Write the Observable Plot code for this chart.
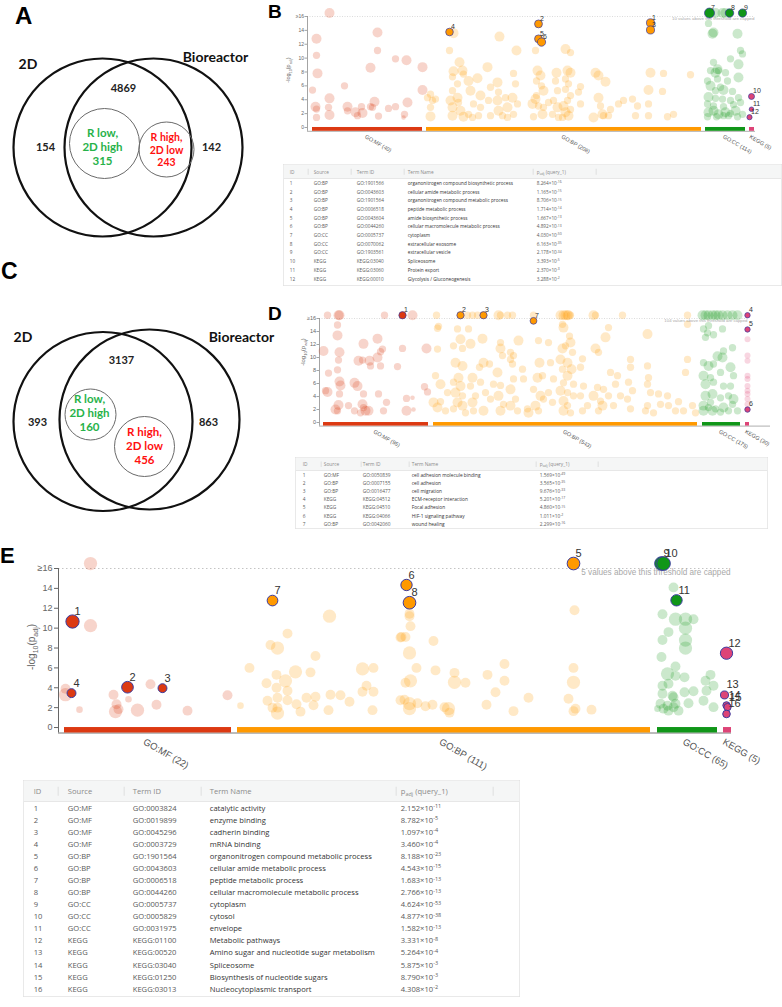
<!DOCTYPE html>
<html><head><meta charset="utf-8">
<script src="https://cdn.jsdelivr.net/npm/d3@7"></script>
<script src="https://cdn.jsdelivr.net/npm/@observablehq/plot@0.6"></script>
<style>
body{margin:0;background:#fff;}
#root{position:relative;width:782px;height:1007px;overflow:hidden;background:#fff;}
</style></head><body><div id="root"></div>
<script>
// ---------------- DATA ----------------
const SRC_COLORS = {"GO:MF":"#dc3912","GO:BP":"#ff9900","GO:CC":"#109618","KEGG":"#dd4477"};
const CATS = ["GO:MF","GO:BP","GO:CC","KEGG"];

// Venn A
const vennA_sets = ["2D","Bioreactor"];
const vennA_counts = [154, 4869, 142];           // only 2D, both, only Bioreactor
const vennA_green = ["R low,","2D high","315"];
const vennA_red = ["R high,","2D low","243"];
// Venn C
const vennC_sets = ["2D","Bioreactor"];
const vennC_counts = [393, 3137, 863];
const vennC_green = ["R low,","2D high","160"];
const vennC_red = ["R high,","2D low","456"];

// Panel B: term counts, table
const B_counts = [40, 208, 114, 5];
const B_src = ["GO:BP","GO:BP","GO:BP","GO:BP","GO:BP","GO:BP","GO:CC","GO:CC","GO:CC","KEGG","KEGG","KEGG"];
const B_termId = ["GO:1901566","GO:0043603","GO:1901564","GO:0006518","GO:0043604","GO:0044260","GO:0005737","GO:0070062","GO:1903561","KEGG:03040","KEGG:03060","KEGG:00010"];
const B_termName = ["organonitrogen compound biosynthetic process","cellular amide metabolic process","organonitrogen compound metabolic process","peptide metabolic process","amide biosynthetic process","cellular macromolecule metabolic process","cytoplasm","extracellular exosome","extracellular vesicle","Spliceosome","Protein export","Glycolysis / Gluconeogenesis"];
const B_pMant = ["8.264","1.165","8.706","1.714","1.667","4.892","4.030","6.163","2.178","3.393","2.370","3.288"];
const B_pExp = [-16,-15,-15,-14,-13,-13,-50,-35,-34,-5,-3,-2];
const B_hiPos = [650,538,650,449,538,541,709,729,742,751,751,749];
const B_hiSize = [600,500,600,400,500,700,3000,800,700,100,30,50];
const B_capped = 10;
// faint points [term position, -log10 p, term size]
const B_MF = [[329,16.5,3000],[316,12.8,3000],[316,10.4,300],[317,7.8,3000],[312,5.4,300],[315,3.0,3000],[316,2.65,300],[316,1.45,300],[329,4.2,3000],[328,2.9,300],[329,1.8,3000],[344,6.0,300],[347,3.0,3000],[347,2.4,300],[355,2.2,3000],[357,1.7,300],[361,3.0,300],[362,2.1,3000],[370,3.0,300],[374,3.7,3000],[372,2.9,300],[377,13.7,3000],[377,11.1,300],[370,8.6,3000],[378,1.65,300],[388,2.75,300],[395,3.0,300],[395,9.9,300],[406,9.7,3000],[407,3.6,3000],[404,1.9,300],[403,1.45,30],[422,8.7,3000],[422,5.4,3000]];
const B_BP = [[430,4.8,300],[427,4.3,300],[432,3.9,300],[435,4.1,300],[430,2.9,300],[430,1.6,3000],[449,11.1,300],[453,13.6,3000],[459,9.4,3000],[452,7.3,300],[453,8.1,3000],[462,8.2,3000],[463,7.7,300],[468,6.7,3000],[457,6.3,300],[452,5.3,300],[457,4.3,3000],[450,3.9,3000],[458,3.6,300],[452,2.9,3000],[460,2.4,3000],[452,1.7,3000],[463,1.55,3000],[468,1.9,300],[472,1.45,300],[477,7.1,3000],[470,5.3,3000],[480,4.6,3000],[473,3.4,300],[480,2.9,300],[478,1.7,300],[487,8.7,3000],[490,5.8,300],[488,3.9,300],[490,1.7,300],[497,6.5,3000],[498,5.1,300],[497,3.9,3000],[498,2.4,3000],[502,1.7,300],[499,13.1,3000],[505,4.3,300],[507,2.9,3000],[507,1.45,300],[516,11.1,3000],[513,7.8,300],[515,6.3,300],[512,4.3,3000],[513,1.9,300],[517,3.4,300],[535,11.1,300],[537,8.2,3000],[540,7.5,3000],[536,6.7,300],[541,6.0,300],[543,5.3,3000],[535,4.1,3000],[538,3.1,300],[536,4.6,300],[532,3.4,3000],[543,2.9,300],[548,3.6,300],[542,1.9,3000],[533,1.55,300],[556,7.9,3000],[555,6.7,300],[557,5.3,300],[553,3.9,300],[557,2.9,3000],[552,1.9,300],[558,1.45,300],[565,11.3,3000],[570,10.8,300],[567,8.2,3000],[570,7.9,3000],[565,7.0,300],[568,6.3,300],[565,5.5,300],[570,4.6,300],[567,3.9,300],[563,3.1,3000],[570,2.6,300],[565,2.2,3000],[568,1.7,3000],[562,1.45,300],[580,5.9,300],[578,5.1,300],[580,3.4,300],[598,7.5,3000],[595,7.9,3000],[605,6.6,3000],[598,4.3,3000],[600,3.1,300],[610,2.6,300],[608,1.7,300],[603,1.7,300],[593,1.45,3000],[602,1.9,3000],[618,3.4,300],[623,3.9,300],[632,4.1,300],[637,3.1,300],[635,1.7,300],[650,7.9,3000],[648,5.4,3000],[648,3.4,300],[648,1.7,300],[663,7.8,300],[662,5.2,300],[667,1.55,300],[673,1.9,300],[690,7.6,300]];
const B_CC = [[715,16.5,3000],[722,16.5,3000],[725,16.5,3000],[708,15.0,300],[712,13.5,3000],[713,13.7,3000],[737,13.5,3000],[740,11.1,300],[742,10.6,300],[730,9.9,300],[713,9.4,300],[738,9.1,3000],[717,8.4,3000],[710,8.2,300],[715,7.9,3000],[718,8.2,300],[725,7.9,300],[707,6.7,300],[717,7.0,300],[727,6.7,300],[738,7.2,3000],[710,6.0,3000],[720,5.8,300],[715,5.3,300],[723,5.4,3000],[732,5.2,300],[708,4.4,3000],[715,4.2,300],[722,4.1,300],[730,3.9,300],[738,4.3,300],[707,3.4,300],[713,3.1,300],[723,3.0,300],[733,3.3,300],[740,3.6,300],[708,2.2,3000],[713,2.4,3000],[718,1.9,3000],[725,2.2,3000],[730,2.0,300],[735,2.4,3000],[707,1.55,300],[716,1.55,300],[723,1.7,300],[737,1.55,300],[742,1.9,300],[728,1.7,300]];

// Panel D
const D_counts = [95, 543, 175, 30];
const D_src = ["GO:MF","GO:BP","GO:BP","KEGG","KEGG","KEGG","GO:BP"];
const D_termId = ["GO:0050839","GO:0007155","GO:0016477","KEGG:04512","KEGG:04510","KEGG:04066","GO:0042060"];
const D_termName = ["cell adhesion molecule binding","cell adhesion","cell migration","ECM-receptor interaction","Focal adhesion","HIF-1 signaling pathway","wound healing"];
const D_pMant = ["1.569","3.565","9.676","5.201","4.860","1.011","2.299"];
const D_pExp = [-49,-35,-33,-17,-15,-2,-16];
const D_hiPos = [402,460,483,747,747,747,533];
const D_hiSize = [300,300,300,60,60,60,200];
const D_capped = 104;
const D_MF = [[327,16.5,300],[338,16.5,3000],[339,16.5,3000],[384,16.5,300],[412,16.5,3000],[323,11.0,3000],[328,7.6,300],[327,4.7,3000],[325,4.9,300],[337,15.0,300],[337,13.4,3000],[339,10.8,3000],[338,9.6,300],[337,8.1,300],[339,6.3,3000],[340,5.7,3000],[339,4.4,300],[338,2.7,3000],[337,1.8,300],[335,2.0,3000],[348,2.6,300],[354,6.1,3000],[357,5.6,3000],[354,1.8,300],[358,9.5,3000],[362,9.6,300],[363,12.1,3000],[363,4.4,300],[362,2.8,3000],[363,2.3,300],[365,1.8,3000],[360,1.5,300],[369,9.5,3000],[370,8.7,300],[368,1.8,3000],[377,12.9,3000],[377,10.0,3000],[380,10.9,300],[382,11.3,300],[380,8.7,300],[378,4.4,300],[386,3.1,300],[383,1.8,300],[397,8.6,300],[402,11.4,300],[406,3.7,300],[412,3.8,30],[406,1.8,3000],[413,2.0,30],[426,11.4,3000],[424,5.5,300],[427,4.7,300]];
const D_BP = [[436,16.5,300],[467,16.5,300],[472,16.5,300],[477,16.5,300],[498,16.5,3000],[500,16.5,300],[507,16.5,300],[512,16.5,300],[533,16.5,300],[560,16.5,3000],[563,16.5,3000],[565,16.5,3000],[567,16.5,3000],[568,16.5,3000],[570,16.5,300],[593,16.5,3000],[595,16.5,300],[622,16.5,300],[687,16.5,300],[437,14.5,300],[438,14.8,300],[437,11.3,300],[435,7.2,300],[440,5.9,3000],[433,3.1,3000],[437,2.3,3000],[440,3.2,300],[447,4.6,300],[445,1.8,300],[457,14.4,300],[460,12.8,3000],[453,11.8,300],[462,11.4,300],[455,9.2,3000],[462,8.7,3000],[458,6.9,3000],[453,6.2,300],[460,5.6,3000],[455,4.6,3000],[462,4.1,300],[457,3.1,3000],[462,2.6,3000],[453,2.1,300],[465,1.5,300],[468,14.4,300],[470,12.1,3000],[472,6.9,3000],[470,5.6,300],[475,4.1,300],[472,3.1,3000],[473,1.8,300],[482,12.9,3000],[479,8.5,300],[483,9.2,3000],[480,6.2,300],[485,4.6,300],[483,1.8,3000],[489,9.0,300],[493,5.9,300],[490,3.6,300],[500,12.3,300],[500,11.4,3000],[502,10.3,300],[497,7.7,3000],[500,5.7,300],[498,4.1,3000],[503,2.8,300],[500,1.8,3000],[510,10.8,300],[513,10.3,300],[510,9.7,300],[512,9.0,300],[513,6.7,300],[510,5.1,3000],[515,3.6,300],[510,2.6,3000],[517,1.8,300],[518,12.6,3000],[522,8.2,300],[523,6.7,300],[527,2.1,300],[528,1.5,3000],[538,12.6,300],[539,9.2,3000],[537,6.9,3000],[542,7.2,300],[533,5.1,300],[540,4.1,3000],[535,2.6,3000],[543,3.6,300],[538,1.8,300],[548,12.3,300],[550,9.2,300],[553,6.7,300],[548,4.6,300],[552,3.1,300],[562,15.1,300],[563,14.6,3000],[562,11.4,3000],[565,11.8,300],[560,9.7,3000],[567,9.2,3000],[562,8.2,300],[567,7.2,3000],[563,6.1,300],[560,4.9,3000],[567,4.6,300],[563,3.3,3000],[567,2.6,300],[563,1.8,3000],[570,1.5,300],[570,12.3,3000],[569,13.3,300],[572,10.8,300],[571,8.2,3000],[573,5.9,300],[573,4.1,300],[580,8.5,300],[582,9.8,300],[583,5.6,300],[580,4.1,300],[582,1.8,300],[587,2.6,300],[595,11.4,3000],[598,10.8,300],[593,4.1,3000],[597,5.4,300],[600,3.3,300],[598,1.8,300],[605,13.1,3000],[608,14.6,300],[603,5.1,300],[610,7.7,300],[608,4.1,300],[602,2.6,3000],[617,7.2,300],[615,5.9,300],[620,4.1,300],[613,2.6,300],[630,9.7,300],[630,8.5,300],[628,6.2,300],[632,4.9,300],[627,3.6,300],[630,2.1,300],[647,13.6,3000],[647,8.7,300],[648,6.9,300],[647,5.9,300],[650,4.6,300],[647,2.6,300],[645,1.8,300],[653,1.5,300],[658,4.4,300],[667,4.1,300],[668,2.6,300],[660,2.8,300],[675,1.8,300],[687,9.7,300],[685,7.7,300],[687,15.1,300],[692,2.6,300],[683,1.8,300],[695,1.5,300],[678,3.2,300]];
const D_CC = [[702,16.5,3000],[705,16.5,3000],[708,16.5,3000],[712,16.5,3000],[715,16.5,3000],[718,16.5,3000],[722,16.5,3000],[727,16.5,3000],[732,16.5,3000],[737,16.5,3000],[703,14.4,300],[707,13.8,300],[705,13.1,300],[708,14.9,300],[722,14.4,300],[713,13.5,300],[703,9.2,300],[708,8.7,3000],[713,9.0,300],[722,10.0,3000],[723,11.0,300],[732,11.5,300],[717,10.2,3000],[703,7.2,3000],[710,6.9,300],[720,7.7,300],[730,8.5,3000],[733,7.2,300],[705,5.9,3000],[713,6.2,300],[723,5.6,300],[730,5.6,300],[705,4.1,3000],[712,4.4,3000],[720,3.8,300],[728,4.1,300],[733,3.6,3000],[703,2.6,3000],[710,3.1,300],[715,2.1,300],[723,2.3,3000],[732,2.8,300],[737,1.8,300],[703,1.8,3000],[712,1.8,3000],[720,1.6,300],[728,1.8,300],[708,2.3,300]];
const D_KEGG = [[747,12.8,100],[747,10.3,100],[747,9.5,100],[747,7.2,100],[747,6.7,100],[747,5.6,100],[747,4.9,100],[747,4.4,100],[747,3.6,100],[747,2.8,100],[747,2.0,100]];

// Panel E
const E_counts = [22, 111, 65, 5];
const E_src = ["GO:MF","GO:MF","GO:MF","GO:MF","GO:BP","GO:BP","GO:BP","GO:BP","GO:CC","GO:CC","GO:CC","KEGG","KEGG","KEGG","KEGG","KEGG"];
const E_termId = ["GO:0003824","GO:0019899","GO:0045296","GO:0003729","GO:1901564","GO:0043603","GO:0006518","GO:0044260","GO:0005737","GO:0005829","GO:0031975","KEGG:01100","KEGG:00520","KEGG:03040","KEGG:01250","KEGG:03013"];
const E_termName = ["catalytic activity","enzyme binding","cadherin binding","mRNA binding","organonitrogen compound metabolic process","cellular amide metabolic process","peptide metabolic process","cellular macromolecule metabolic process","cytoplasm","cytosol","envelope","Metabolic pathways","Amino sugar and nucleotide sugar metabolism","Spliceosome","Biosynthesis of nucleotide sugars","Nucleocytoplasmic transport"];
const E_pMant = ["2.152","8.782","1.097","3.460","8.188","4.543","1.683","2.766","4.624","4.877","1.582","3.331","5.264","5.875","8.790","4.308"];
const E_pExp = [-11,-5,-4,-4,-23,-15,-13,-13,-53,-38,-13,-8,-4,-3,-3,-2];
const E_hiPos = [72,127,162,71,573,406,272,409,661,663,676,726,724,726,727,726];
const E_hiSize = [3000,1000,150,150,2000,800,500,2000,4000,4000,800,1500,80,50,50,60];
const E_capped = 5;
const E_MF = [[90,16.5,3000],[90,10.25,3000],[65,3.9,300],[65,3.3,3000],[79,1.8,30],[113,3.3,300],[116,2.35,300],[115,1.6,3000],[128,2.85,30],[118,1.85,300],[137,1.75,3000],[150,4.35,300],[156,2.3,300],[187,1.7,300],[227,3.25,300]];
const E_BP = [[240,2.2,30],[249,6.0,300],[266,4.45,300],[267,2.7,300],[270,8.3,300],[277,8.0,3000],[276,5.3,300],[276,4.0,300],[277,3.0,300],[272,2.0,300],[277,2.0,300],[277,1.45,3000],[285,4.7,3000],[287,3.7,300],[287,2.75,300],[287,9.45,300],[295,5.6,3000],[296,2.35,300],[300,1.6,300],[306,3.0,300],[310,5.55,300],[315,7.2,300],[315,3.1,300],[313,2.25,300],[329,11.2,3000],[330,3.3,300],[328,1.75,300],[340,3.25,300],[349,2.6,300],[362,5.9,3000],[366,4.2,300],[362,3.6,300],[373,6.0,300],[373,3.6,300],[372,1.75,300],[400,9.05,300],[400,2.75,300],[409,11.45,300],[409,11.2,300],[410,10.2,300],[401,9.1,300],[405,9.1,300],[433,8.7,300],[409,7.5,3000],[416,6.0,300],[435,5.75,300],[410,4.7,3000],[405,4.5,300],[454,5.5,300],[454,4.55,3000],[465,4.5,300],[487,5.3,300],[504,6.4,300],[504,4.7,300],[495,3.55,300],[528,3.0,300],[404,2.8,300],[409,2.4,3000],[409,1.9,3000],[417,2.45,300],[425,2.15,300],[432,2.3,300],[444,2.05,300],[448,1.9,3000],[449,1.5,300],[486,2.3,300],[513,1.65,300],[574,11.8,300],[573,6.0,300],[573,4.55,3000],[568,2.9,300],[575,1.9,300],[573,1.65,300],[591,1.8,300]];
const E_CC = [[673,14.1,300],[662,11.4,300],[675,10.9,3000],[685,10.9,3000],[693,10.9,300],[668,9.6,300],[685,10.0,3000],[662,8.8,300],[685,8.8,3000],[685,8.0,3000],[661,7.1,300],[675,6.15,300],[675,5.2,300],[667,5.4,3000],[684,5.05,300],[662,4.2,300],[668,4.4,300],[662,3.4,300],[672,3.2,300],[684,3.55,300],[693,3.65,300],[705,4.7,300],[710,5.3,300],[706,3.7,300],[713,4.2,300],[703,2.7,300],[688,2.45,300],[660,2.4,300],[667,2.2,300],[673,2.05,300],[675,2.4,300],[678,1.7,300],[668,1.7,300],[663,1.9,300],[657,1.9,30],[713,2.05,300],[673,3.05,300]];

// ---------------- HELPERS ----------------
const root = document.getElementById("root");
const CAP = 16.5;
const FONT = "'Liberation Sans', Arial, sans-serif";
function pts(arr, src){ return (arr||[]).map(([x,y,s]) => ({x, y, s, src})); }
function highlights(src, pos, size, mant, exp){
  return src.map((s,i) => { const v = -(Math.log10(+mant[i]) + exp[i]); return {id:i+1, src:s, x:pos[i], s:size[i], y: v > 16 ? CAP : v}; });
}
function place(el, left, top){ el.style.position="absolute"; el.style.left=left+"px"; el.style.top=top+"px"; root.appendChild(el); }

function manhattan(c){
  const faint = [...pts(c.MF,"GO:MF"), ...pts(c.BP,"GO:BP"), ...pts(c.CC,"GO:CC"), ...pts(c.KEGG,"KEGG")];
  const bars = CATS.map((name,i) => ({src:name, x1:c.barX[i][0], x2:c.barX[i][1], label:`${name} (${c.counts[i]})`}));
  const x0 = c.xdom[0];
  const svg = Plot.plot({
    width:c.w, height:c.h, marginTop:c.mt, marginBottom:c.mb, marginLeft:c.ml, marginRight:c.mr,
    x:{domain:c.xdom, axis:null},
    y:{domain:[-0.55,16], axis:null},
    r:{type:"log", domain:[10,10000], range:c.rRange},
    style:{fontFamily:FONT, background:"transparent", overflow:"visible"},
    marks:[
      Plot.ruleY([16], {x1:()=>x0, x2:()=>c.capEnd, stroke:"#c4c4c4", strokeDasharray:c.dash, strokeWidth:c.lw}),
      Plot.text([`${c.capped} values above this threshold are capped`], {x:()=>c.capEnd, y:()=>16, text:d=>d, textAnchor:"end", dy:c.capDy, fontSize:c.capFs, fill:"#a9a9a9"}),
      Plot.ruleX([x0], {y1:()=>-0.55, y2:()=>16, stroke:"#666", strokeWidth:c.lw}),
      Plot.axisY([0,2,4,6,8,10,12,14,16], {tickFormat:d=>d===16?"≥16":String(d), fontSize:c.tickFs, tickSize:c.tickSize, tickPadding:c.tickPad, stroke:"#666", fill:"#666", strokeWidth:c.lw, label:null}),
      Plot.ruleY([-0.55], {x1:()=>x0, x2:()=>c.xdom[1], stroke:"#777", strokeWidth:c.lw}),
      Plot.dot(faint, {x:"x", y:"y", r:"s", fill:d=>SRC_COLORS[d.src], fillOpacity:0.22}),
      Plot.rect(bars, {x1:"x1", x2:"x2", y1:()=>0, y2:()=>-0.55, fill:d=>SRC_COLORS[d.src]}),
      Plot.text(bars, {x:d=>(d.x1+d.x2)/2, y:()=>-0.55, text:"label", rotate:30, textAnchor:"start", dx:c.catDx, dy:c.catDy, fontSize:c.catFs, fill:"#555"}),
      Plot.dot(c.hi, {x:"x", y:"y", r:"s", fill:d=>SRC_COLORS[d.src], stroke:"#3b3ba0", strokeWidth:c.hiSw, sort:null}),
      Plot.text(c.hi, {x:"x", y:"y", text:d=>String(d.id), textAnchor:"start", dx:c.lblDx, dy:c.lblDy, fontSize:c.lblFs, fill:"#333"})
    ]
  });
  const s = d3.select(svg);
  const f = c.ylFs;
  const t = s.append("text").attr("transform",`translate(${c.ylx},${c.yly}) rotate(-90)`)
    .attr("text-anchor","middle").attr("font-size",f).attr("fill","#666").attr("font-family",FONT);
  t.append("tspan").text("-log");
  t.append("tspan").attr("font-size",f*0.7).attr("dy",f*0.3).text("10");
  t.append("tspan").attr("dy",-f*0.3).text("(p");
  t.append("tspan").attr("font-size",f*0.7).attr("dy",f*0.3).text("adj");
  t.append("tspan").attr("dy",-f*0.3).text(")");
  place(svg, c.left, c.top);
}

function venn(c){
  const svg = Plot.plot({
    width:c.w, height:c.h, margin:0,
    x:{domain:[c.left, c.left+c.w], range:[0,c.w], axis:null},
    y:{domain:[c.top, c.top+c.h], range:[0,c.h], axis:null},
    r:{type:"linear", domain:[0,100], range:[0,100]},
    style:{fontFamily:"Lato, 'Open Sans', sans-serif", background:"transparent", overflow:"visible"},
    marks:[
      Plot.dot(c.big, {x:"cx", y:"cy", r:"r", stroke:"#111", strokeWidth:2.2, fill:"none"}),
      Plot.dot(c.small, {x:"cx", y:"cy", r:"r", stroke:"#6a6a6a", strokeWidth:1, fill:"none"}),
      Plot.text(c.setLabels, {x:"x", y:"y", text:"t", fontSize:14, fontWeight:"bold", fill:"#111"}),
      Plot.text(c.countLabels, {x:"x", y:"y", text:d=>String(d.t), fontSize:11, fontWeight:"bold", fill:"#222"}),
      Plot.text([c.green], {x:"x", y:"y", text:"t", fontSize:11.5, lineHeight:1.22, fontWeight:"bold", fill:"#27b24a"}),
      Plot.text([c.red], {x:"x", y:"y", text:"t", fontSize:c.redFs, lineHeight:1.2, fontWeight:"bold", fill:"#ff1010"})
    ]
  });
  place(svg, c.left, c.top);
}

function table(c, rows){
  const k = 4;
  const el = document.createElement("div");
  el.style.cssText = `position:absolute;left:${c.left}px;top:${c.top}px;width:${c.w*k}px;height:${c.h*k}px;transform:scale(${1/k});transform-origin:0 0;font-family:'Open Sans','Noto Sans',sans-serif;font-size:${c.fs*k}px;border:${0.8*k}px solid #e2e2e2;box-sizing:border-box;background:#fff;`;
  const hd = document.createElement("div");
  hd.style.cssText = `position:absolute;left:0;top:0;right:0;height:${c.hh*k}px;background:#f5f6f6;border-bottom:${0.8*k}px solid #e2e2e2;box-sizing:border-box;`;
  el.appendChild(hd);
  const headers = ["ID","Source","Term ID","Term Name",`p<sub style="font-size:0.72em;vertical-align:-0.3em;line-height:0">adj</sub> (query_1)`];
  headers.forEach((h,i) => {
    const s = document.createElement("div");
    s.style.cssText = `position:absolute;left:${c.cols[i]*k}px;top:0;height:${c.hh*k}px;line-height:${c.hh*k}px;color:#8a8a8a;white-space:nowrap;`;
    s.innerHTML = h; hd.appendChild(s);
  });
  c.divs.forEach(x => {
    const d = document.createElement("div");
    d.style.cssText = `position:absolute;left:${x*k}px;top:${c.hh*0.28*k}px;height:${c.hh*0.44*k}px;width:${0.7*k}px;background:#d8d8d8;`;
    hd.appendChild(d);
  });
  rows.forEach((r,j) => r.forEach((v,i) => {
    const s = document.createElement("div");
    s.style.cssText = `position:absolute;left:${c.cols[i]*k}px;top:${(c.hh+j*c.rh)*k}px;height:${c.rh*k}px;line-height:${c.rh*k}px;color:${i===3?"#333":"#5a5a5a"};white-space:nowrap;`;
    s.innerHTML = v; el.appendChild(s);
  }));
  root.appendChild(el);
}
function pfmt(m,e){ return `${m}×10<sup style="font-size:0.72em;vertical-align:0.45em;line-height:0">${e}</sup>`; }
function tableRows(src, ids, names, mant, exp){ return src.map((s,i) => [String(i+1), s, ids[i], names[i], pfmt(mant[i], exp[i])]); }

// ---------------- PANELS ----------------
venn({left:0, top:0, w:250, h:262, redFs:10.5,
  big:[{cx:102, cy:147, r:89},{cx:153, cy:147, r:89}],
  small:[{cx:104, cy:143, r:35},{cx:166, cy:149, r:27.5}],
  setLabels:[{x:27.5, y:64, t:vennA_sets[0]},{x:215, y:57, t:vennA_sets[1]}],
  countLabels:[{x:45, y:147, t:vennA_counts[0]},{x:123, y:88, t:vennA_counts[1]},{x:211, y:147, t:vennA_counts[2]}],
  green:{x:102, y:146, t:vennA_green.join("\n")},
  red:{x:166, y:149, t:vennA_red.join("\n")}
});
venn({left:0, top:280, w:282, h:255, redFs:11.5,
  big:[{cx:102.5, cy:421, r:89.5},{cx:149, cy:419, r:90}],
  small:[{cx:90, cy:414, r:25.5},{cx:144, cy:446, r:30}],
  setLabels:[{x:22.5, y:337, t:vennC_sets[0]},{x:241, y:337, t:vennC_sets[1]}],
  countLabels:[{x:37, y:422, t:vennC_counts[0]},{x:121, y:360, t:vennC_counts[1]},{x:208, y:422, t:vennC_counts[2]}],
  green:{x:89, y:412, t:vennC_green.join("\n")},
  red:{x:144, y:445, t:vennC_red.join("\n")}
});

manhattan({left:250, top:0, w:532, h:160, mt:16, mb:29.2, ml:57, mr:27, xdom:[307,755],
  rRange:[1.65,5.7], MF:B_MF, BP:B_BP, CC:B_CC, KEGG:[], counts:B_counts,
  barX:[[312,422],[426,701],[705,745],[749,754]],
  hi:highlights(B_src, B_hiPos, B_hiSize, B_pMant, B_pExp),
  capped:B_capped, capEnd:754, capDy:2.5, capFs:4.4, dash:"1,1.5", lw:0.6,
  tickFs:5, tickSize:2.5, tickPad:1, catDx:-2, catDy:5, catFs:5.5,
  hiSw:0.7, lblDx:1.5, lblDy:-5.5, lblFs:7, ylx:40, yly:70, ylFs:5.5});

manhattan({left:280, top:290, w:502, h:160, mt:28, mb:24.4, ml:39, mr:12, xdom:[319,770],
  rRange:[1.65,5.7], MF:D_MF, BP:D_BP, CC:D_CC, KEGG:D_KEGG, counts:D_counts,
  barX:[[323,428],[433,697],[702,740],[745,749]],
  hi:highlights(D_src, D_hiPos, D_hiSize, D_pMant, D_pExp),
  capped:D_capped, capEnd:747, capDy:2.5, capFs:4.3, dash:"1,1.5", lw:0.6,
  tickFs:5.5, tickSize:2.5, tickPad:1, catDx:-2, catDy:5, catFs:5.5,
  hiSw:0.7, lblDx:1.5, lblDy:-5.5, lblFs:7, ylx:25, yly:62, ylFs:6});

manhattan({left:0, top:540, w:782, h:220, mt:28, mb:27.5, ml:58, mr:51, xdom:[58,731],
  rRange:[2.5,7.5], MF:E_MF, BP:E_BP, CC:E_CC, KEGG:[], counts:E_counts,
  barX:[[64,231],[237,650],[657,717],[723,731]],
  hi:highlights(E_src, E_hiPos, E_hiSize, E_pMant, E_pExp),
  capped:E_capped, capEnd:730, capDy:4, capFs:8.2, dash:"1.5,2.5", lw:1,
  tickFs:9, tickSize:4, tickPad:2, catDx:-4, catDy:8, catFs:9.5,
  hiSw:1, lblDx:2, lblDy:-10, lblFs:11, ylx:35, yly:107, ylFs:10});

table({left:283, top:164, w:499, h:122, hh:14, rh:8.7, fs:4.7, cols:[6,30,73,124,253], divs:[24,67,120,249,312]},
  tableRows(B_src, B_termId, B_termName, B_pMant, B_pExp));
table({left:295, top:457, w:473, h:72, hh:13, rh:8.2, fs:4.8, cols:[7,28,67,116,244], divs:[25,65,113,240,302]},
  tableRows(D_src, D_termId, D_termName, D_pMant, D_pExp));
table({left:23, top:780, w:497, h:217, hh:21, rh:12.07, fs:7.6, cols:[10,44,109,186,377], divs:[34,100,177,372,469]},
  tableRows(E_src, E_termId, E_termName, E_pMant, E_pExp));

const letters = d3.select(root).append("svg").attr("width",782).attr("height",1007)
  .style("position","absolute").style("left","0px").style("top","0px").style("pointer-events","none");
[["A",15,24,24],["B",268,18,19],["C",1,279,23],["D",268,320,19],["E",0,563,22]].forEach(([t,x,y,fs]) => {
  letters.append("text").attr("x",x).attr("y",y).attr("font-size",fs).attr("font-weight","bold")
    .attr("font-family",FONT).attr("fill","#000").text(t);
});
</script></body></html>
